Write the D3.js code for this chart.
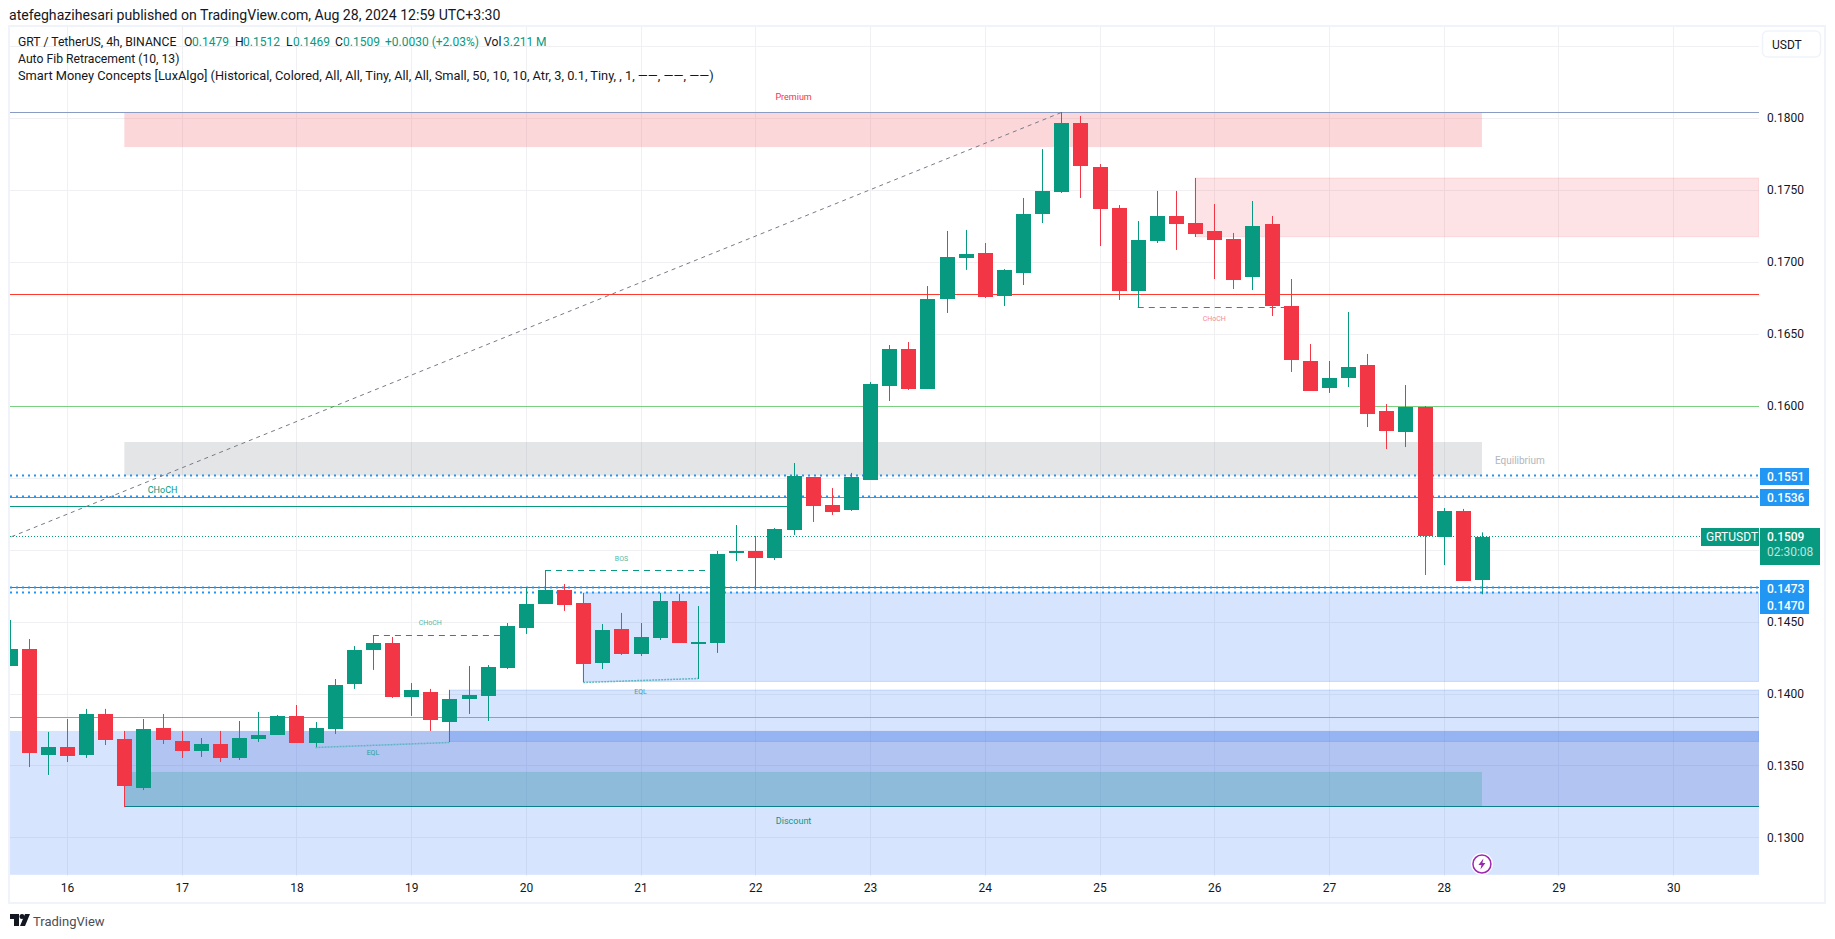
<!DOCTYPE html>
<meta charset="utf-8">
<html>
<head>
<style>
  html, body { margin: 0; padding: 0; background: #fff; }
  svg { display: block; }
  text { font-family: Roboto, sans-serif; }
</style>
</head>
<body>
<script src="https://d3js.org/d3.v7.min.js"></script>
<script>
// candles, one every 4h, oldest first
var opens = [.14191,.14309,.13573,.13628,.13573,.13858,.13684,.13343,.13761,.13670,.13600,.13649,.13552,.13684,.13712,.13844,.13656,.13754,.14066,.14303,
  .14351,.13976,.14011,.13802,.13962,.13983,.14177,.14455,.14622,.14720,.14629,.14212,.14448,.14275,.14386,.14643,.14346,.14351,.14977,.14991,
  .14942,.15137,.15505,.15310,.15276,.15484,.16137,.16394,.16116,.16742,.17027,.17062,.16763,.16923,.17333,.17486,.17965,.17659,.17374,.16798,
  .17145,.17319,.17270,.17215,.17159,.16895,.17263,.16693,.16311,.16123,.16193,.16283,.15964,.15818,.15991,.15088,.15269,.1479];
var highs = [.14511,.14379,.13733,.13823,.13893,.13893,.13740,.13823,.13858,.13740,.13691,.13740,.13809,.13872,.13851,.13920,.13802,.14101,.14330,.14400,
  .14393,.14073,.14032,.14025,.14191,.14198,.14490,.14740,.14852,.14761,.14699,.14483,.14560,.14490,.14699,.14692,.14608,.14991,.15171,.15095,
  .15150,.15602,.15505,.15428,.15533,.16165,.16422,.16443,.16832,.17215,.17222,.17131,.16950,.17444,.17784,.18042,.18014,.17680,.17395,.17284,
  .17493,.17493,.17583,.17402,.17201,.17423,.17319,.16881,.16429,.16311,.16652,.16360,.16012,.16144,.15998,.15289,.15283,.1512];
var lows = [.14191,.13489,.13434,.13524,.13552,.13642,.13211,.13329,.13649,.13552,.13559,.13524,.13538,.13663,.13712,.13656,.13628,.13719,.14032,.14164,
  .13969,.13844,.13740,.13663,.13858,.13809,.14170,.14414,.14622,.14574,.14080,.14170,.14268,.14261,.14372,.14351,.14101,.14282,.14921,.14720,
  .14928,.15102,.15192,.15241,.15269,.15484,.16033,.16110,.16116,.16645,.16944,.16749,.16693,.16839,.17270,.17479,.17444,.17110,.16735,.16686,
  .17131,.17083,.17173,.16881,.16811,.16804,.16624,.16235,.16103,.16089,.16130,.15852,.15699,.15713,.14824,.14893,.14782,.1469];
var closes = [.14309,.13587,.13628,.13566,.13858,.13677,.13357,.13754,.13677,.13600,.13649,.13552,.13691,.13712,.13844,.13656,.13761,.14059,.14303,.14351,
  .13976,.14025,.13816,.13962,.13990,.14184,.14469,.14622,.14720,.14615,.14205,.14442,.14275,.14393,.14643,.14351,.14358,.14970,.14991,.14942,
  .15143,.15512,.15303,.15262,.15505,.16151,.16394,.16116,.16742,.17034,.17055,.16756,.16944,.17333,.17493,.17965,.17666,.17367,.16798,.17152,
  .17319,.17263,.17194,.17152,.16874,.17249,.16693,.16318,.16103,.16193,.16269,.15943,.15824,.15991,.15095,.15269,.14782,.1509];

var dayLabels = [16,17,18,19,20,21,22,23,24,25,26,27,28,29,30];
var priceTicks = [.13,.135,.14,.145,.16,.165,.17,.175,.18];
var gridPrices = [.13,.135,.14,.145,.15,.155,.16,.165,.17,.175,.18,.185];

// boxes from the indicator: from bar, to bar (null runs to the right edge), top price, bottom price
var premiumBox = [6, 77, .18038, .17798];
var supplyBox = [62, null, .17583, .17175];
var equilibriumBox = [6, 77, .15748, .15515];
var discountBox = [null, null, .13740, .12740];
var demandBoxes = [[30, null, .14700, .14084], [23, null, .14024, .13667]];
var lowerDemandBox = [6, null, .13740, .13215];
var tealBox = [6, 77, .13455, .13215];

// right hand labels
var levelValues = [.15515, .15368, .14736, .14700];
var levelLabels = ["0.1551", "0.1536", "0.1473", "0.1470"];
var lastPrice = .1509;

// set the dimensions of the chart
var width = 1835, height = 939;
var plot = {left: 10, right: 1759, top: 27, bottom: 876};
var barWidth = 15;

var x = d3.scaleLinear().domain([0.02, 91.49]).range([plot.left, plot.right]);
var y = d3.scaleLinear().domain([.13, .18]).range([837.4, 118]);
function dayIndex(d) { return 3 + (d - 16) * 6; }

var svg = d3.select("body").append("svg").attr("width", width).attr("height", height);

// outer frame
svg.append("rect").attr("x", 9).attr("y", 26).attr("width", 1816).attr("height", 877)
  .attr("fill", "#fff").attr("stroke", "#f0f3fa").attr("stroke-width", 2);

svg.append("defs").append("clipPath").attr("id", "plotclip").append("rect")
  .attr("x", plot.left).attr("y", plot.top)
  .attr("width", plot.right - plot.left).attr("height", plot.bottom - plot.top);

var chart = svg.append("g").attr("clip-path", "url(#plotclip)");

// grid
chart.selectAll(".hgrid").data(gridPrices).enter().append("line")
  .attr("x1", plot.left).attr("x2", plot.right)
  .attr("y1", function(d) { return Math.round(y(d)) + .5; })
  .attr("y2", function(d) { return Math.round(y(d)) + .5; })
  .attr("stroke", "#f0f0f2");
chart.selectAll(".vgrid").data(dayLabels).enter().append("line")
  .attr("x1", function(d) { return Math.round(x(dayIndex(d))) + .5; })
  .attr("x2", function(d) { return Math.round(x(dayIndex(d))) + .5; })
  .attr("y1", plot.top).attr("y2", plot.bottom)
  .attr("stroke", "#f0f0f2");

// boxes
function box(b, fill, stroke) {
  var x0 = b[0] === null ? plot.left : x(b[0]);
  var x1 = b[1] === null ? plot.right : x(b[1]);
  return chart.append("rect")
    .attr("x", x0).attr("width", x1 - x0)
    .attr("y", y(b[2])).attr("height", y(b[3]) - y(b[2]))
    .attr("fill", fill).attr("stroke", stroke || "none");
}
box(discountBox, "rgba(41,113,245,.19)");
box(lowerDemandBox, "rgba(25,68,198,.2)");
demandBoxes.forEach(function(b) { box(b, "rgba(41,113,245,.19)", "rgba(41,113,245,.2)"); });
box(tealBox, "rgba(8,153,129,.2)");
box(premiumBox, "rgba(242,54,69,.2)");
box(supplyBox, "rgba(242,54,69,.14)", "rgba(242,54,69,.12)");
box(equilibriumBox, "rgba(120,123,134,.2)");

// horizontal lines from the fib tool and the indicator
function hline(p, color, from, to, w) {
  var yy = Math.round(y(p) - .5) + .5;
  return chart.append("line")
    .attr("x1", from === null ? plot.left : x(from)).attr("x2", to === null ? plot.right : x(to))
    .attr("y1", yy).attr("y2", yy)
    .attr("stroke", color).attr("stroke-width", w || 1);
}
hline(.18038, "#8a9cc4", null, null);
hline(.16775, "#ff3b30", null, null);
hline(.15995, "#7ccf80", null, null);
hline(.15365, "#7f9a3a", null, null);
hline(.15300, "#089981", null, 41);
hline(.14736, "#089981", null, null);
hline(.13832, "#5ab0f0", null, null);
hline(.13215, "#0b7f8c", 6, null);

// dotted price lines
levelValues.forEach(function(p) {
  hline(p, "#2196f3", null, null, 2).attr("stroke-dasharray", "2,4");
});
hline(lastPrice, "#089981", null, 88.5).attr("stroke-dasharray", "1,2");

// auto fib trend line
chart.append("line")
  .attr("x1", x(0.1)).attr("y1", y(lastPrice))
  .attr("x2", x(55)).attr("y2", y(.18038))
  .attr("stroke", "#787b86").attr("stroke-dasharray", "4,4");

// market structure lines
function dashed(a, pa, b, pb, color) {
  return chart.append("line")
    .attr("x1", x(a)).attr("y1", Math.round(y(pa) - .5) + .5)
    .attr("x2", x(b)).attr("y2", Math.round(y(pb) - .5) + .5)
    .attr("stroke", color).attr("stroke-dasharray", "6,5");
}
dashed(19, .14400, 26, .14400, "#089981");
dashed(28, .14852, 36.9, .14852, "#089981");
dashed(59, .16686, 67, .16686, "#f23645");
dashed(16, .13628, 23, .13663, "#5fb5c4").attr("stroke-width", 1.5).attr("stroke-dasharray", "2,1");
dashed(30, .14080, 36, .14101, "#5fb5c4").attr("stroke-width", 1.5).attr("stroke-dasharray", "2,1");

// candles
var candles = chart.selectAll(".candle").data(closes).enter().append("g")
  .attr("class", "candle")
  .attr("transform", function(d, i) { return "translate(" + Math.round(x(i)) + ",0)"; });
function col(i) { return closes[i] >= opens[i] ? "#089981" : "#f23645"; }
candles.append("line")
  .attr("x1", .5).attr("x2", .5)
  .attr("y1", function(d, i) { return y(highs[i]); })
  .attr("y2", function(d, i) { return y(lows[i]); })
  .attr("stroke", function(d, i) { return col(i); });
candles.append("rect")
  .attr("x", -Math.floor(barWidth / 2)).attr("width", barWidth)
  .attr("y", function(d, i) { return Math.round(y(Math.max(opens[i], closes[i]))); })
  .attr("height", function(d, i) {
    return Math.max(1, Math.round(y(Math.min(opens[i], closes[i]))) - Math.round(y(Math.max(opens[i], closes[i]))));
  })
  .attr("fill", function(d, i) { return col(i); });

// small labels on the chart
function tag(t, bar, p, color, size, op) {
  chart.append("text").attr("x", x(bar)).attr("y", y(p)).attr("dy", ".35em")
    .attr("text-anchor", "middle").attr("fill", color)
    .attr("font-size", size).attr("opacity", op).text(t);
}
tag("Premium", 41, .18149, "#f23645", 9, 1);
tag("Discount", 41, .13115, "#089981", 9, 1);
tag("CHoCH", 8, .15418, "#089981", 9, 1);
tag("CHoCH", 22, .14490, "#089981", 7, .7);
tag("BOS", 32, .14940, "#089981", 7, .7);
tag("CHoCH", 63, .16605, "#f23645", 7, .6);
tag("EQL", 19, .13590, "#089981", 7, .8);
tag("EQL", 33, .14015, "#089981", 7, .8);
chart.append("text").attr("x", x(77) + 13).attr("y", y(.15623)).attr("dy", ".35em")
  .attr("fill", "#b2b5be").attr("font-size", 10).text("Equilibrium");

// axes
var yAxis = d3.axisRight(y).tickValues(priceTicks).tickSize(0).tickPadding(0).tickFormat(d3.format(".4f"));
var gy = svg.append("g").attr("transform", "translate(1767," + 0 + ")").call(yAxis);
var xAxis = d3.axisBottom(x).tickValues(dayLabels.map(dayIndex)).tickSize(0).tickPadding(0)
  .tickFormat(function(d, i) { return dayLabels[i]; });
var gx = svg.append("g").attr("transform", "translate(0,883)").call(xAxis);
[gy, gx].forEach(function(g) {
  g.select(".domain").remove();
  g.selectAll("text").attr("fill", "#131722").attr("font-size", 12).style("font-family", "Roboto, sans-serif");
});

// price boxes on the right
var tagX = 1760, tagH = 17;
levelValues.forEach(function(p, i) {
  var yy = Math.round(y(p));
  if (i == 3) yy = yy + 12;
  svg.append("rect").attr("x", tagX).attr("y", yy - 8).attr("width", 49).attr("height", tagH).attr("fill", "#2196f3");
  svg.append("text").attr("x", 1767).attr("y", yy + .5).attr("dy", ".35em")
    .attr("fill", "#fff").attr("font-size", 12).attr("font-weight", 500).text(levelLabels[i]);
});
var ly = Math.round(y(lastPrice));
svg.append("rect").attr("x", 1701).attr("y", ly - 9).attr("width", 58).attr("height", 18).attr("fill", "#089981");
svg.append("text").attr("x", 1706).attr("y", ly).attr("dy", ".35em").attr("fill", "#fff").attr("font-size", 12).text("GRTUSDT");
svg.append("rect").attr("x", tagX).attr("y", ly - 9).attr("width", 60).attr("height", 37).attr("fill", "#089981");
svg.append("text").attr("x", 1767).attr("y", ly).attr("dy", ".35em").attr("fill", "#fff").attr("font-size", 12).attr("font-weight", 500).text("0.1509");
svg.append("text").attr("x", 1767).attr("y", ly + 15).attr("dy", ".35em").attr("fill", "#bfe3dc").attr("font-size", 12).text("02:30:08");

// USDT button
svg.append("rect").attr("x", 1762.5).attr("y", 31).attr("width", 58).attr("height", 26).attr("rx", 5)
  .attr("fill", "#fff").attr("stroke", "#f0f3fa").attr("stroke-width", 1.5);
svg.append("text").attr("x", 1772).attr("y", 45).attr("dy", ".35em").attr("fill", "#131722").attr("font-size", 12).text("USDT");

// lightning marker over the last bar
var mark = svg.append("g").attr("transform", "translate(" + x(77) + ",864)");
mark.append("circle").attr("r", 11).attr("fill", "#fff");
mark.append("circle").attr("r", 9).attr("fill", "#fff").attr("stroke", "#9c27b0").attr("stroke-width", 1.5);
mark.append("path").attr("d", "M1.5,-5.5 L-3.5,1 L-.5,1 L-1.5,5.5 L3.5,-1 L.5,-1 Z").attr("fill", "#9c27b0");

// header and legend
svg.append("text").attr("x", 9).attr("y", 15).attr("dy", ".35em").attr("fill", "#131722").attr("font-size", 14.1)
  .text("atefeghazihesari published on TradingView.com, Aug 28, 2024 12:59 UTC+3:30");

var legendBlack = ["GRT / TetherUS, 4h, BINANCE", "O", "H", "L", "C", "Vol"];
var legendBlackX = [18, 184, 235, 286, 335, 484];
var legendGreen = ["0.1479", "0.1512", "0.1469", "0.1509", "+0.0030 (+2.03%)", "3.211 M"];
var legendGreenX = [192, 243, 293, 343, 385, 503];
legendBlack.forEach(function(t, i) {
  svg.append("text").attr("x", legendBlackX[i]).attr("y", 42).attr("dy", ".35em").attr("fill", "#131722").attr("font-size", 12.2).text(t);
});
legendGreen.forEach(function(t, i) {
  svg.append("text").attr("x", legendGreenX[i]).attr("y", 42).attr("dy", ".35em").attr("fill", "#089981").attr("font-size", 12).text(t);
});
svg.append("text").attr("x", 18).attr("y", 59).attr("dy", ".35em").attr("fill", "#131722").attr("font-size", 12.2).text("Auto Fib Retracement (10, 13)");
svg.append("text").attr("x", 18).attr("y", 76).attr("dy", ".35em").attr("fill", "#131722").attr("font-size", 12.8)
  .text("Smart Money Concepts [LuxAlgo] (Historical, Colored, All, All, Tiny, All, All, Small, 50, 10, 10, Atr, 3, 0.1, Tiny, , 1, \u2014\u2014, \u2014\u2014, \u2014\u2014)");

// TradingView logo
var logo = svg.append("g").attr("transform", "translate(10,914)");
logo.append("path").attr("d", "M0,0 H9 V12 H4 V5 H0 Z").attr("fill", "#131722");
logo.append("circle").attr("cx", 12).attr("cy", 2.5).attr("r", 2.5).attr("fill", "#131722");
logo.append("path").attr("d", "M15,0 H20 L15,12 H10 Z").attr("fill", "#131722");
svg.append("text").attr("x", 33).attr("y", 921).attr("dy", ".35em").attr("fill", "#4a4e57").attr("font-size", 13).text("TradingView");
</script>
</body>
</html>
